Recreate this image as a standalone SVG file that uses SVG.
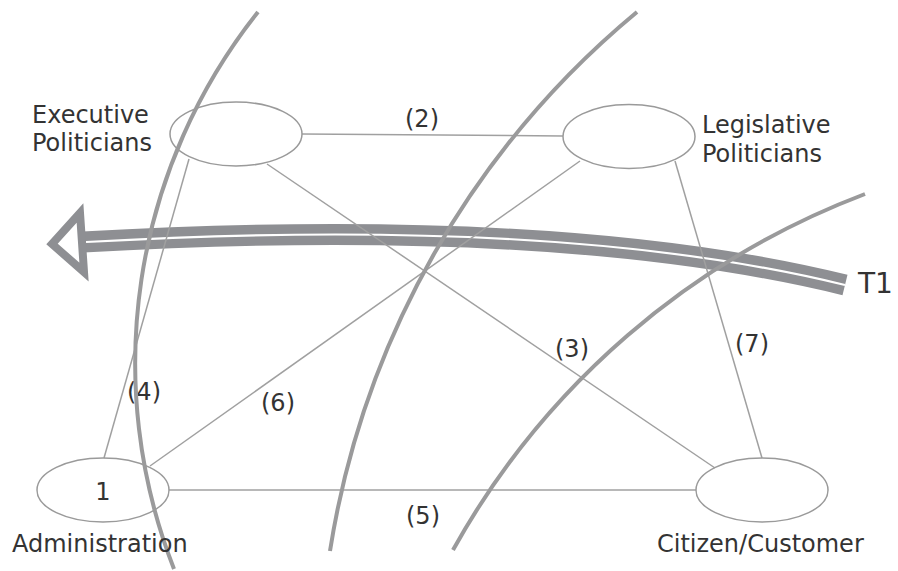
<svg xmlns="http://www.w3.org/2000/svg" width="898" height="571" viewBox="0 0 898 571">
<style>
.node{fill:none;stroke:#9a9a9a;stroke-width:1.5}
.edge{stroke:#a0a0a0;stroke-width:1.5;fill:none}
.arc{stroke:#9a9a9b;stroke-width:4;fill:none}
text{font-family:"DejaVu Sans",Verdana,sans-serif;font-size:24px;fill:#333}
.c{text-anchor:middle}
</style>
<rect width="898" height="571" fill="#fff"/>
<g id="t1-arrow">
<path d="M845,285 Q560,215 83,242" stroke="#8e8f93" stroke-width="21" fill="none"/>
<path d="M845,285 Q560,215 86,242" stroke="#fff" stroke-width="2.2" fill="none"/>
<polygon points="52,244 80,213 84,272" fill="#fff" stroke="#8e8f93" stroke-width="8" stroke-linejoin="miter"/>
<text x="858" y="293" style="font-size:28px">T1</text>
</g>
<g id="connectors">
<line class="edge" x1="302" y1="134" x2="563" y2="136"/>
<line class="edge" x1="189" y1="159" x2="104" y2="458"/>
<line class="edge" x1="267" y1="164" x2="715" y2="468"/>
<line class="edge" x1="150" y1="466" x2="580" y2="161"/>
<line class="edge" x1="169" y1="490" x2="696" y2="490"/>
<line class="edge" x1="675" y1="161" x2="762" y2="458"/>
<text class="c" x="422" y="127">(2)</text>
<text class="c" x="572" y="357">(3)</text>
<text class="c" x="144" y="400">(4)</text>
<text class="c" x="423" y="524">(5)</text>
<text class="c" x="278" y="411">(6)</text>
<text class="c" x="752" y="352">(7)</text>
</g>
<g id="boundaries">
<path class="arc" d="M258,12 A564,564 0 0 0 174,569"/>
<path class="arc" d="M637,12 A877,877 0 0 0 330,551"/>
<path class="arc" d="M865,194 A792,792 0 0 0 453,550"/>
</g>
<g id="executive">
<ellipse class="node" cx="236" cy="134" rx="66" ry="32"/>
<text x="32" y="123">Executive</text>
<text x="32" y="151">Politicians</text>
</g>
<g id="legislative">
<ellipse class="node" cx="629" cy="136.5" rx="66" ry="32"/>
<text x="702" y="133">Legislative</text>
<text x="702" y="162">Politicians</text>
</g>
<g id="administration">
<ellipse class="node" cx="103" cy="490" rx="66" ry="32"/>
<text class="c" x="103" y="500">1</text>
<text x="12" y="552">Administration</text>
</g>
<g id="citizen">
<ellipse class="node" cx="762" cy="490" rx="66" ry="32"/>
<text x="657" y="552">Citizen/Customer</text>
</g>
</svg>
